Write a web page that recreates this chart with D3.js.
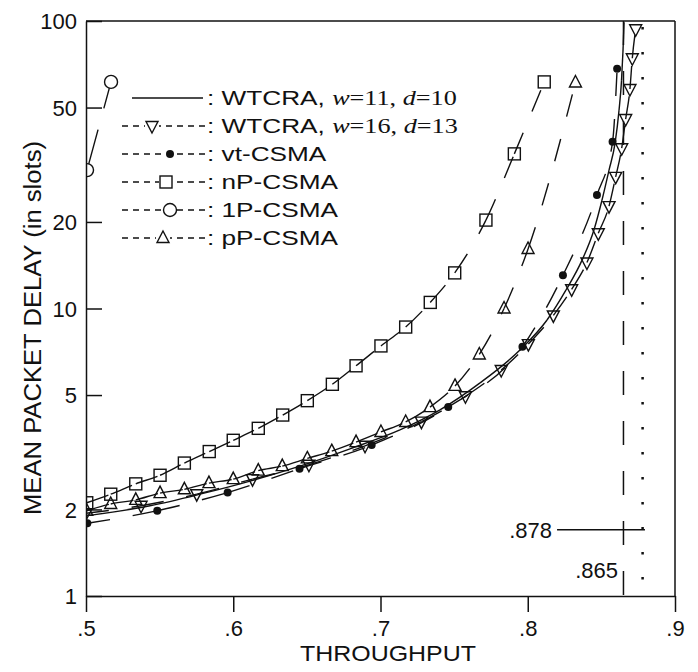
<!DOCTYPE html>
<html>
<head>
<meta charset="utf-8">
<script src="https://cdn.jsdelivr.net/npm/d3@7"></script>
<style>
  body { margin: 0; background: #fff; }
  svg text { font-family: "Liberation Sans", Arial, sans-serif; fill: #111; }
  .serif { font-family: "Liberation Serif", "Times New Roman", serif; }
</style>
</head>
<body>
<svg id="chart" width="698" height="672"></svg>
<script>
// axis ticks
var xTicks = [0.5, 0.6, 0.7, 0.8, 0.9];
var yTicks = [1, 2, 5, 10, 20, 50, 100];

// WTCRA, w=11, d=10 (solid, no markers)
var wtcra11X = [0.5, 0.5435, 0.5774, 0.6114, 0.6453, 0.6793, 0.7132, 0.7404, 0.7676, 0.7947, 0.8131, 0.8260, 0.8368, 0.8450, 0.8504, 0.8552, 0.8593, 0.8620, 0.8637, 0.8647, 0.8654];
var wtcra11Y = [1.90, 2.06, 2.26, 2.51, 2.83, 3.25, 3.78, 4.44, 5.51, 7.17, 9.12, 11.6, 14.7, 18.8, 23.8, 30.3, 37.6, 49.0, 62.3, 79.3, 99];

// WTCRA, w=16, d=13 (down triangles)
var wtcra16X = [0.5, 0.5374, 0.5752, 0.6131, 0.6514, 0.6895, 0.7278, 0.7577, 0.7820, 0.8004, 0.8174, 0.8298, 0.8402, 0.8479, 0.8552, 0.8597, 0.8638, 0.8665, 0.8694, 0.8710, 0.8733];
var wtcra16Y = [1.94, 2.06, 2.26, 2.55, 2.86, 3.33, 4.04, 4.95, 6.11, 7.52, 9.46, 11.66, 14.45, 18.26, 22.7, 28.7, 36.1, 45.6, 58.0, 74.2, 93.6];

// vt-CSMA (filled dots)
var vtX = [0.5009, 0.5484, 0.5962, 0.645, 0.694, 0.746, 0.7964, 0.8239, 0.847, 0.8576, 0.8607];
var vtY = [1.79, 1.98, 2.29, 2.77, 3.35, 4.54, 7.36, 13.05, 24.8, 38.0, 68.2];

// nP-CSMA (squares)
var npX = [0.5005, 0.5168, 0.5338, 0.5503, 0.5668, 0.5837, 0.6000, 0.6170, 0.6336, 0.6503, 0.6673, 0.6834, 0.7003, 0.7171, 0.7338, 0.7504, 0.7716, 0.7909, 0.8112];
var npY = [2.11, 2.26, 2.455, 2.63, 2.90, 3.18, 3.48, 3.83, 4.26, 4.78, 5.45, 6.32, 7.41, 8.62, 10.5, 13.3, 20.3, 34.5, 61.4];

// 1P-CSMA (open circles)
var p1X = [0.5007, 0.517];
var p1Y = [30.3, 61.4];

// pP-CSMA (up triangles)
var ppX = [0.5005, 0.5168, 0.5338, 0.5503, 0.5668, 0.5835, 0.6000, 0.6170, 0.6333, 0.6503, 0.6669, 0.6834, 0.7003, 0.7171, 0.7336, 0.7506, 0.7671, 0.7839, 0.8002, 0.8324];
var ppY = [1.98, 2.09, 2.16, 2.28, 2.35, 2.47, 2.55, 2.73, 2.83, 3.01, 3.19, 3.43, 3.72, 4.03, 4.54, 5.38, 6.92, 10.0, 16.1, 61.1];

// capacity limits and their labels
var limitDashed = 0.865;
var limitDotted = 0.878;
var limitLabels = [".878", ".865"];

var svg = d3.select("#chart");
var margin = {top: 21, right: 23, bottom: 76, left: 86};
var width = 698, height = 672;

var x = d3.scaleLinear().domain([0.5, 0.9]).range([margin.left, width - margin.right]);
var y = d3.scaleLog().domain([1, 100]).range([height - margin.bottom, margin.top]);

var series = [
  {name: "wtcra11", xs: wtcra11X, ys: wtcra11Y, marker: null, dash: null},
  {name: "wtcra16", xs: wtcra16X, ys: wtcra16Y, marker: "tridown", dash: "23,23"},
  {name: "vt", xs: vtX, ys: vtY, marker: "dot", dash: "23,23"},
  {name: "np", xs: npX, ys: npY, marker: "square", dash: "23,23"},
  {name: "p1", xs: p1X, ys: p1Y, marker: "circle", dash: "42,22"},
  {name: "pp", xs: ppX, ys: ppY, marker: "triup", dash: "23,23"}
];

var plot = svg.append("g");
plot.append("clipPath").attr("id", "clip")
  .append("rect").attr("x", x(0.5)).attr("y", y(100)).attr("width", x(0.9) - x(0.5)).attr("height", y(1) - y(100));

// split a smooth curve into one path per segment so the dash restarts at each marker
function segmentPaths(pts) {
  var segs = [], cur = null;
  var ctx = {
    moveTo: function(a, b) { cur = [a, b]; },
    lineTo: function(a, b) { segs.push("M" + cur + "L" + a + "," + b); cur = [a, b]; },
    bezierCurveTo: function(a, b, c, d, e, f) { segs.push("M" + cur + "C" + [a, b, c, d, e, f].join(",")); cur = [e, f]; },
    closePath: function() {}
  };
  d3.line().x(function(d) { return x(d[0]); }).y(function(d) { return y(d[1]); })
    .curve(d3.curveMonotoneX).context(ctx)(pts);
  return segs;
}

function drawMarker(g, type, cx, cy) {
  if (type == "square") {
    g.append("rect").attr("x", cx - 6).attr("y", cy - 6).attr("width", 12).attr("height", 12)
      .attr("fill", "none").attr("stroke", "#111").attr("stroke-width", 1.4);
  } else if (type == "circle") {
    g.append("circle").attr("cx", cx).attr("cy", cy).attr("r", 6.5)
      .attr("fill", "#fff").attr("stroke", "#111").attr("stroke-width", 1.4);
  } else if (type == "dot") {
    g.append("circle").attr("cx", cx).attr("cy", cy).attr("r", 4).attr("fill", "#111");
  } else if (type == "triup") {
    g.append("path").attr("d", "M" + cx + "," + (cy - 7) + "L" + (cx + 6) + "," + (cy + 4.5) + "L" + (cx - 6) + "," + (cy + 4.5) + "Z")
      .attr("fill", "none").attr("stroke", "#111").attr("stroke-width", 1.4);
  } else if (type == "tridown") {
    g.append("path").attr("d", "M" + cx + "," + (cy + 7) + "L" + (cx + 6) + "," + (cy - 4.5) + "L" + (cx - 6) + "," + (cy - 4.5) + "Z")
      .attr("fill", "none").attr("stroke", "#111").attr("stroke-width", 1.4);
  }
}

var curves = plot.append("g").attr("clip-path", "url(#clip)");
series.forEach(function(s) {
  var pts = s.xs.map(function(v, i) { return [v, s.ys[i]]; });
  var g = curves.append("g").attr("class", s.name);
  segmentPaths(pts).forEach(function(p) {
    g.append("path").attr("d", p).attr("fill", "none").attr("stroke", "#111")
      .attr("stroke-width", 1.4).attr("stroke-dasharray", s.dash);
  });
  if (s.marker) {
    pts.forEach(function(d) { drawMarker(g, s.marker, x(d[0]), y(d[1])); });
  }
});

// capacity lines
plot.append("line").attr("x1", x(limitDashed)).attr("x2", x(limitDashed))
  .attr("y1", y(100)).attr("y2", y(1))
  .attr("stroke", "#111").attr("stroke-width", 1.5).attr("stroke-dasharray", "24,26");
plot.append("line").attr("x1", x(limitDotted)).attr("x2", x(limitDotted))
  .attr("y1", y(100) + 6).attr("y2", y(1))
  .attr("stroke", "#111").attr("stroke-width", 2.5).attr("stroke-dasharray", "2.5,22.5");

// annotations for the limits
plot.append("line").attr("x1", x(0.8199)).attr("x2", x(0.8796)).attr("y1", y(1.70)).attr("y2", y(1.70))
  .attr("stroke", "#111").attr("stroke-width", 1.3);
plot.append("text").attr("x", x(0.8165)).attr("y", y(1.70) + 8).attr("text-anchor", "end")
  .style("font-size", "22px").text(limitLabels[0]);
plot.append("text").attr("x", x(0.8613)).attr("y", y(1.155)).attr("text-anchor", "end")
  .style("font-size", "22px").text(limitLabels[1]);

// frame
svg.append("line").attr("x1", x(0.5)).attr("x2", x(0.9)).attr("y1", y(100)).attr("y2", y(100))
  .attr("stroke", "#111").attr("stroke-width", 1.5);
svg.append("line").attr("x1", x(0.9)).attr("x2", x(0.9)).attr("y1", y(100)).attr("y2", y(1))
  .attr("stroke", "#111").attr("stroke-width", 1.5);

// axes
var xAxis = d3.axisBottom(x).tickValues(xTicks).tickSize(16).tickSizeOuter(0).tickPadding(8)
  .tickFormat(function(d) { return d3.format(".1f")(d).replace(/^0/, ""); });
var yAxis = d3.axisLeft(y).tickValues(yTicks).tickSize(-16).tickSizeOuter(0).tickPadding(9)
  .tickFormat(d3.format("d"));

var gx = svg.append("g").attr("transform", "translate(0," + y(1) + ")").call(xAxis);
var gy = svg.append("g").attr("transform", "translate(" + x(0.5) + ",0)").call(yAxis);
[gx, gy].forEach(function(g) {
  g.selectAll("path, line").attr("stroke", "#111").attr("stroke-width", 1.5);
  g.selectAll("text").attr("fill", "#111").style("font-size", "22px")
    .style("font-family", "'Liberation Sans', Arial, sans-serif");
});
gy.selectAll("text").attr("dy", "0.36em");

svg.append("text").attr("x", 388).attr("y", 661).attr("text-anchor", "middle")
  .attr("textLength", 176).attr("lengthAdjust", "spacingAndGlyphs")
  .style("font-size", "22px").text("THROUGHPUT");
svg.append("text").attr("transform", "translate(41,328) rotate(-90)")
  .attr("text-anchor", "middle").attr("textLength", 374).attr("lengthAdjust", "spacingAndGlyphs")
  .style("font-size", "23px").text("MEAN PACKET DELAY (in slots)");

// legend
var legendRows = [
  {marker: null, dash: null, mx: 0, label: ["WTCRA", "11", "10"]},
  {marker: "tridown", dash: "6,5", mx: 152, label: ["WTCRA", "16", "13"]},
  {marker: "dot", dash: "6,5", mx: 170, label: "vt-CSMA"},
  {marker: "square", dash: "6,5", mx: 166, label: "nP-CSMA"},
  {marker: "circle", dash: "6,5", mx: 170, label: "1P-CSMA"},
  {marker: "triup", dash: "6,5", mx: 163, label: "pP-CSMA"}
];
var legend = svg.append("g");
legendRows.forEach(function(r, i) {
  var ly = 98 + i * 28;
  var g = legend.append("g");
  if (r.marker) {
    g.append("line").attr("x1", 122).attr("x2", 205).attr("y1", ly).attr("y2", ly)
      .attr("stroke", "#111").attr("stroke-width", 1.3).attr("stroke-dasharray", r.dash);
    g.append("rect").attr("x", r.mx - 7).attr("y", ly - 7).attr("width", 14).attr("height", 14).attr("fill", "#fff");
    drawMarker(g, r.marker, r.mx, ly);
  } else {
    g.append("line").attr("x1", 132).attr("x2", 203).attr("y1", ly).attr("y2", ly)
      .attr("stroke", "#111").attr("stroke-width", 1.5);
  }
  // the scanned legend lettering is wide, so stretch it horizontally
  var t = g.append("text").attr("transform", "translate(207," + (ly + 7) + ") scale(1.31,1)")
    .style("font-size", "20px");
  if (typeof r.label == "string") {
    t.text(": " + r.label);
  } else {
    t.append("tspan").text(": " + r.label[0] + ", ");
    t.append("tspan").attr("class", "serif").style("font-style", "italic").text("w");
    t.append("tspan").attr("class", "serif").text("=" + r.label[1] + ", ");
    t.append("tspan").attr("class", "serif").style("font-style", "italic").text("d");
    t.append("tspan").attr("class", "serif").text("=" + r.label[2]);
  }
});
</script>
</body>
</html>
